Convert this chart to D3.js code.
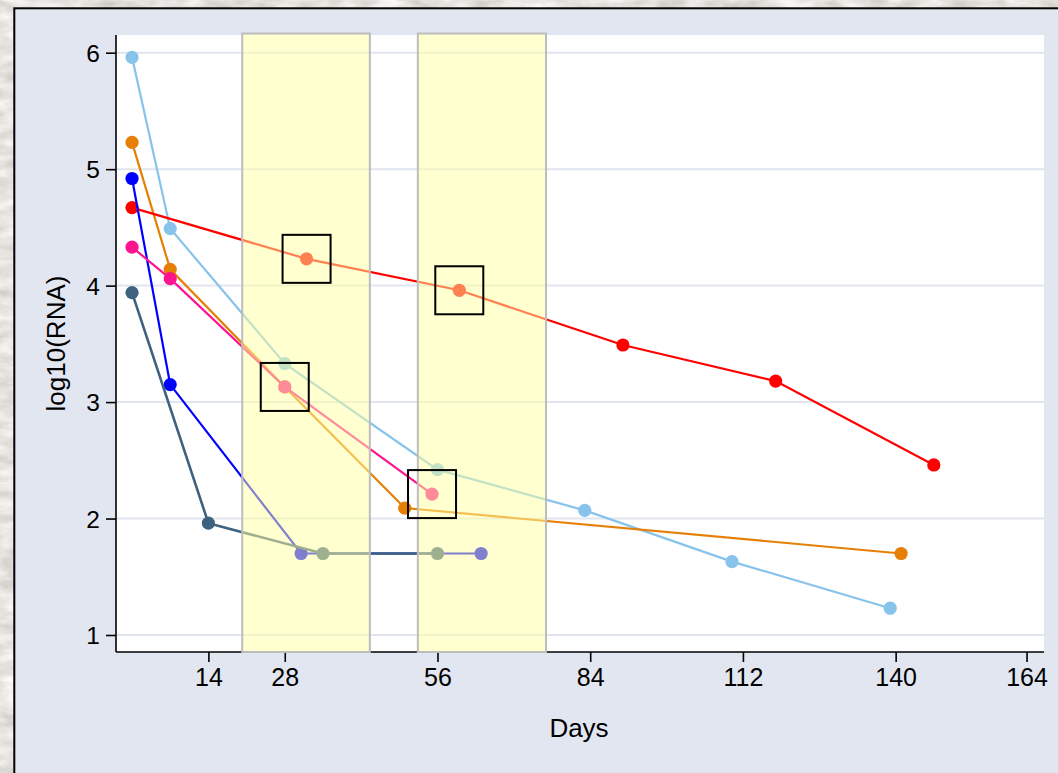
<!DOCTYPE html>
<html>
<head>
<meta charset="utf-8">
<script src="https://cdn.jsdelivr.net/npm/d3@7"></script>
<style>
  html, body { margin: 0; padding: 0; background: #cdc9c2; overflow: hidden; }
  svg { display: block; }
  text { font-family: "Liberation Sans", Arial, sans-serif; fill: #000; }
</style>
</head>
<body>
<svg id="chart" width="1058" height="773"></svg>
<script>
// Viral load (log10 RNA copies) per subject over follow-up days
const ltblueDays = [0, 7, 28, 56, 83, 110, 139];
const ltblueVals = [5.96, 4.49, 3.33, 2.42, 2.07, 1.63, 1.23];

const orangeDays = [0, 7, 28, 50, 141];
const orangeVals = [5.23, 4.14, 3.13, 2.09, 1.70];

const redDays = [0, 32, 60, 90, 118, 147];
const redVals = [4.67, 4.23, 3.96, 3.49, 3.18, 2.46];

const blueDays = [0, 7, 31, 64];
const blueVals = [4.92, 3.15, 1.70, 1.70];

const pinkDays = [0, 7, 28, 55];
const pinkVals = [4.33, 4.06, 3.13, 2.21];

const slateDays = [0, 14, 35, 56];
const slateVals = [3.94, 1.96, 1.70, 1.70];

// Sampling windows shaded on the time axis
const windowStart = [20.2, 52.4];
const windowEnd = [43.6, 75.9];

// Highlighted measurements (boxed)
const boxDays = [32, 60, 28, 55];
const boxVals = [4.23, 3.96, 3.13, 2.21];

// Axis ticks
const xTicks = [14, 28, 56, 84, 112, 140, 164];
const yTicks = [1, 2, 3, 4, 5, 6];

const seriesList = [
  { days: ltblueDays, vals: ltblueVals, color: "#87c3ea" },
  { days: orangeDays, vals: orangeVals, color: "#e67f05" },
  { days: redDays, vals: redVals, color: "#ff0000" },
  { days: blueDays, vals: blueVals, color: "#0000ff" },
  { days: pinkDays, vals: pinkVals, color: "#ff1490" },
  { days: slateDays, vals: slateVals, color: "#3f6180", width: 2.6 }
];

const svg = d3.select("#chart");
const W = 1058, H = 773;

// ---- textured stone backdrop ----
const defs = svg.append("defs");
const stone = defs.append("filter").attr("id", "stone")
  .attr("x", 0).attr("y", 0).attr("width", "100%").attr("height", "100%");
stone.append("feTurbulence").attr("type", "fractalNoise")
  .attr("baseFrequency", "0.035 0.09").attr("numOctaves", 4).attr("seed", 7).attr("result", "n");
stone.append("feColorMatrix").attr("in", "n").attr("type", "matrix")
  .attr("values",
    "0 0 0 0.50 0.55  " +
    "0 0 0 0.50 0.53  " +
    "0 0 0 0.50 0.50  " +
    "0 0 0 0 1");
svg.append("rect").attr("width", W).attr("height", H).attr("filter", "url(#stone)");

// ---- graph region panel ----
svg.append("rect")
  .attr("x", 14.3).attr("y", 8.3)
  .attr("width", W + 20).attr("height", H + 20)
  .attr("fill", "#e2e6f1").attr("stroke", "#000").attr("stroke-width", 2);

// ---- plot region ----
const plot = { left: 116, right: 1044, top: 35, bottom: 652 };
svg.append("rect")
  .attr("x", plot.left).attr("y", plot.top)
  .attr("width", plot.right - plot.left).attr("height", plot.bottom - plot.top)
  .attr("fill", "#ffffff");

const x = d3.scaleLinear()
  .domain([-2.94, 167.2])
  .range([plot.left, plot.right]);
const y = d3.scaleLinear()
  .domain([0.854, 6.152])
  .range([plot.bottom, plot.top]);

// gridlines
svg.append("g").selectAll("line").data(yTicks).join("line")
  .attr("x1", plot.left).attr("x2", plot.right)
  .attr("y1", d => y(d)).attr("y2", d => y(d))
  .attr("stroke", "#e1e5f0").attr("stroke-width", 2);

// y axis
const yAxis = svg.append("g")
  .attr("transform", `translate(${plot.left},0)`)
  .call(d3.axisLeft(y).tickValues(yTicks).tickSize(10).tickPadding(6).tickFormat(d3.format("d")));
yAxis.select(".domain").attr("stroke", "#000").attr("stroke-width", 1.6)
  .attr("d", `M0,${plot.top}V${plot.bottom}`);
yAxis.selectAll(".tick line").attr("stroke", "#000").attr("stroke-width", 1.6);
yAxis.selectAll(".tick text").attr("font-size", 24.5).attr("dy", "0.35em")
  .style("font-family", "'Liberation Sans', Arial, sans-serif");

// x axis
const xAxis = svg.append("g")
  .attr("transform", `translate(0,${plot.bottom})`)
  .call(d3.axisBottom(x).tickValues(xTicks).tickSize(10).tickPadding(6).tickFormat(d3.format("d")));
xAxis.select(".domain").attr("stroke", "#000").attr("stroke-width", 1.6)
  .attr("d", `M${plot.left},0H${plot.right}`);
xAxis.selectAll(".tick line").attr("stroke", "#000").attr("stroke-width", 1.6);
xAxis.selectAll(".tick text").attr("font-size", 25).attr("dy", "0.71em")
  .style("font-family", "'Liberation Sans', Arial, sans-serif");

// axis titles
svg.append("text")
  .attr("x", 579).attr("y", 737)
  .attr("text-anchor", "middle").attr("font-size", 26)
  .text("Days");
svg.append("text")
  .attr("transform", `translate(65,${(plot.top + plot.bottom) / 2}) rotate(-90)`)
  .attr("text-anchor", "middle").attr("font-size", 26)
  .text("log10(RNA)");

// ---- series lines and markers ----
const line = d3.line().x(d => x(d[0])).y(d => y(d[1]));
const marks = svg.append("g");
seriesList.forEach(s => {
  const pts = s.days.map((d, i) => [d, s.vals[i]]);
  const g = marks.append("g");
  g.append("path").datum(pts)
    .attr("d", line).attr("fill", "none")
    .attr("stroke", s.color).attr("stroke-width", s.width || 2.2);
  g.selectAll("circle").data(pts).join("circle")
    .attr("cx", d => x(d[0])).attr("cy", d => y(d[1]))
    .attr("r", 6.6).attr("fill", s.color);
});

// ---- shaded windows (translucent overlay) ----
svg.append("g").selectAll("rect").data(windowStart.map((s, i) => [s, windowEnd[i]])).join("rect")
  .attr("x", d => x(d[0])).attr("width", d => x(d[1]) - x(d[0]))
  .attr("y", plot.top - 1.5).attr("height", plot.bottom - plot.top + 1.5)
  .attr("fill", "rgb(255,255,160)").attr("fill-opacity", 0.5)
  .attr("stroke", "#bdbdbd").attr("stroke-width", 2);

// ---- boxed measurements ----
const boxSize = 48;
svg.append("g").selectAll("rect").data(boxDays.map((d, i) => [d, boxVals[i]])).join("rect")
  .attr("x", d => x(d[0]) - boxSize / 2).attr("y", d => y(d[1]) - boxSize / 2)
  .attr("width", boxSize).attr("height", boxSize)
  .attr("fill", "none").attr("stroke", "#000").attr("stroke-width", 2);
</script>
</body>
</html>
